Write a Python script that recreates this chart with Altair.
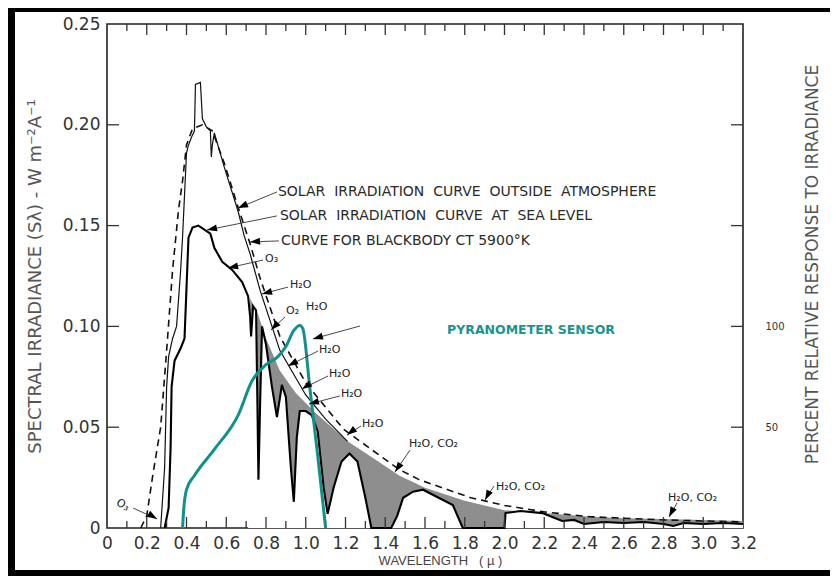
import altair as alt
import pandas as pd

# ---------------- data ----------------
# Blackbody curve 5900 K (dashed)
bb_w = [0.17, 0.20, 0.23, 0.27, 0.30, 0.33, 0.36, 0.38, 0.40, 0.43, 0.48, 0.53, 0.59, 0.66,
        0.72, 0.77, 0.87, 1.00, 1.19, 1.47, 1.57, 1.83, 2.00, 2.20, 2.43, 2.80, 3.20]
bb_v = [0.0, 0.006, 0.026, 0.05, 0.088, 0.128, 0.158, 0.172, 0.19, 0.198, 0.200, 0.197, 0.181, 0.159,
        0.141, 0.124, 0.095, 0.072, 0.049, 0.029, 0.024, 0.015, 0.0112, 0.0080, 0.0056, 0.0040, 0.0030]

# Solar irradiation outside atmosphere (thin solid)
out_w = [0.27, 0.29, 0.30, 0.31, 0.33, 0.35, 0.37, 0.38, 0.39, 0.40, 0.41, 0.43, 0.44, 0.445,
         0.47, 0.48, 0.50, 0.52, 0.525, 0.53, 0.54, 0.59, 0.66, 0.69, 0.72, 0.77, 0.87, 1.00, 1.10, 1.21]
out_v = [0.0, 0.03, 0.07, 0.085, 0.094, 0.10, 0.127, 0.144, 0.165, 0.186, 0.19, 0.195, 0.197, 0.22,
         0.221, 0.203, 0.199, 0.197, 0.184, 0.19, 0.196, 0.179, 0.157, 0.145, 0.136, 0.118, 0.088, 0.066, 0.054, 0.043]

# Upper edge of the shaded absorption region
env_w = [0.72, 0.76, 0.80, 0.87, 0.95, 1.05, 1.21, 1.35, 1.47, 1.60, 1.80, 2.00, 2.20, 2.40,
         2.60, 2.80, 3.00, 3.20]
env_v = [0.114, 0.106, 0.094, 0.078, 0.067, 0.057, 0.043, 0.034, 0.026, 0.020, 0.0135, 0.0088,
         0.0075, 0.0058, 0.0048, 0.0045, 0.0040, 0.0035]

# Solar irradiation at sea level (thick solid)
sea_w = [0.29, 0.31, 0.32, 0.325, 0.34, 0.37, 0.39, 0.40, 0.41, 0.43, 0.46, 0.49, 0.52, 0.54,
         0.58, 0.63, 0.68, 0.71, 0.72, 0.725, 0.735, 0.75, 0.757, 0.762, 0.77, 0.78, 0.80, 0.83,
         0.855, 0.88, 0.90, 0.925, 0.94, 0.955, 0.97, 1.00, 1.03, 1.06, 1.09, 1.11, 1.14, 1.18,
         1.22, 1.26, 1.30, 1.33, 1.43, 1.46, 1.49, 1.54, 1.59, 1.74, 1.79, 2.00, 2.005, 2.08,
         2.19, 2.29, 2.35, 2.40, 2.50, 2.60, 2.70, 2.80, 2.85, 2.90, 3.00, 3.10, 3.20]
sea_v = [0.0, 0.01, 0.04, 0.07, 0.083, 0.089, 0.094, 0.119, 0.144, 0.149, 0.150, 0.148, 0.146, 0.139,
         0.132, 0.128, 0.122, 0.115, 0.105, 0.095, 0.110, 0.108, 0.06, 0.024, 0.06, 0.10, 0.091, 0.07,
         0.055, 0.071, 0.065, 0.03, 0.013, 0.045, 0.058, 0.058, 0.056, 0.048, 0.02, 0.007, 0.02, 0.033,
         0.037, 0.033, 0.015, 0.0, 0.0, 0.006, 0.015, 0.018, 0.019, 0.0114, 0.0, 0.0, 0.0074, 0.0084,
         0.0074, 0.0035, 0.004, 0.002, 0.003, 0.0025, 0.003, 0.002, 0.001, 0.0025, 0.002, 0.0025, 0.002]

# Pyranometer sensor relative response (%)
pyr_w = [0.38, 0.385, 0.40, 0.44, 0.54, 0.66, 0.73, 0.80, 0.86, 0.90, 0.94, 0.97, 0.985, 1.02, 1.06, 1.10]
pyr_p = [0, 8, 19, 26, 39, 56, 73, 81, 85, 90, 98, 100.5, 99, 70, 36, 0]

# Axis tick values / labels
x_label_vals = [round(0.2 * i, 1) for i in range(17)]
x_minor_ticks = [0.1, 0.3, 0.5, 0.7, 0.9, 1.1, 1.3, 1.5, 1.7, 1.9, 2.1, 2.3, 2.5, 2.7, 2.9, 3.1]
x_major_ticks = [0.2, 0.4, 0.6, 0.8, 1.0, 1.2, 1.4, 1.6, 1.8, 2.0, 2.2, 2.4, 2.6, 2.8, 3.0]
y_label_vals = [0, 0.05, 0.10, 0.15, 0.20, 0.25]
y_tick_vals = [0.05, 0.10, 0.15, 0.20]
r_label_vals = [50, 100]

NB = "\u00a0"
# Big labels
big_text = [f"SOLAR {NB}IRRADIATION {NB}CURVE {NB}OUTSIDE {NB}ATMOSPHERE",
            f"SOLAR {NB}IRRADIATION {NB}CURVE {NB}AT {NB}SEA LEVEL",
            "CURVE FOR BLACKBODY CT 5900°K"]
big_w = [0.860, 0.870, 0.875]
big_v = [0.1667, 0.1548, 0.1424]

# Small chemical labels
chem_text = ["O₃", "H₂O", "O₂", "H₂O", "H₂O", "H₂O", "H₂O", "H₂O", "H₂O, CO₂", "H₂O, CO₂", "H₂O, CO₂"]
chem_w = [0.795, 0.921, 0.901, 1.001, 1.067, 1.117, 1.177, 1.283, 1.519, 1.957, 2.823]
chem_v = [0.1334, 0.1205, 0.1076, 0.1096, 0.0883, 0.0764, 0.0665, 0.0516, 0.0417, 0.0203, 0.0149]

o3_text = ["O₃"]
o3_w = [0.050]
o3_v = [0.0129]

pyr_text = ["PYRANOMETER SENSOR"]
pyr_tw = [1.711]
pyr_tv = [0.0982]

# Leader lines: start (w,v) -> arrow tip (w,v), arrow angle (deg)
ld_w0 = [0.855, 0.855, 0.865, 0.785, 0.911, 0.896, 1.273, 1.062, 1.112, 1.172, 1.278, 1.525, 1.947, 2.868, 0.131]
ld_v0 = [0.1667, 0.1548, 0.1424, 0.1329, 0.1195, 0.1047, 0.1002, 0.0878, 0.0754, 0.0655, 0.0506, 0.0387, 0.0208, 0.0124, 0.0099]
ld_w1 = [0.659, 0.503, 0.7195, 0.609, 0.780, 0.825, 1.036, 0.911, 0.981, 1.016, 1.208, 1.449, 1.902, 2.828, 0.252]
ld_v1 = [0.1587, 0.1478, 0.1419, 0.1290, 0.1161, 0.0982, 0.0938, 0.0804, 0.0690, 0.0615, 0.0461, 0.0278, 0.0139, 0.0055, 0.0045]
ld_ang = [156, 168, 176, 168, 165, 135, 164, 152, 148, 164, 142, 124, 118, 117, 31]

# ---------------- tables ----------------
bb_df = pd.DataFrame({"w": bb_w, "v": bb_v})
out_df = pd.DataFrame({"w": out_w, "v": out_v})
env_df = pd.DataFrame({"w": env_w, "v": env_v})
sea_df = pd.DataFrame({"w": sea_w, "v": sea_v})
pyr_df = pd.DataFrame({"w": pyr_w, "p": pyr_p})
big_df = pd.DataFrame({"w": big_w, "v": big_v, "t": big_text})
chem_df = pd.DataFrame({"w": chem_w, "v": chem_v, "t": chem_text})
o3_df = pd.DataFrame({"w": o3_w, "v": o3_v, "t": o3_text})
pyrt_df = pd.DataFrame({"w": pyr_tw, "v": pyr_tv, "t": pyr_text})
lead_rows = []
for i in range(len(ld_w0)):
    lead_rows.append({"id": i, "k": 0, "w": ld_w0[i], "v": ld_v0[i]})
    lead_rows.append({"id": i, "k": 1, "w": ld_w1[i], "v": ld_v1[i]})
lead_df = pd.DataFrame(lead_rows)
tip_df = pd.DataFrame({"w": ld_w1, "v": ld_v1, "a": ld_ang})
xmin_df = pd.DataFrame({"w": x_minor_ticks})
xmaj_df = pd.DataFrame({"w": x_major_ticks})
ytk_df = pd.DataFrame({"v": y_tick_vals})

# ---------------- scales / axes ----------------
W, H = 636, 504
PAD_R, PAD_B = 87, 48
xs = alt.Scale(domain=[0, 3.2], nice=False, zero=False)
ys = alt.Scale(domain=[0, 0.25], nice=False, zero=False)
rs = alt.Scale(domain=[0, 250], nice=False, zero=False)

x_axis = alt.Axis(values=x_label_vals, labelExpr="datum.value == 0 ? '0' : format(datum.value, '.1f')",
                  ticks=False, domain=False, grid=False, labelFont="DejaVu Sans", labelFontSize=17,
                  labelColor="#333", labelPadding=7, labelFlush=False, labelOverlap=False,
                  title=f"WAVELENGTH {NB}{NB}( µ )", titleFont="Liberation Sans", titleFontSize=13,
                  titleFontWeight="normal", titleColor="#444", titlePadding=3, titleX=333)
y_axis = alt.Axis(values=y_label_vals, labelExpr="datum.value == 0 ? '0' : format(datum.value, '.2f')",
                  ticks=False, domain=False, grid=False, labelFont="DejaVu Sans", labelFontSize=17,
                  labelColor="#333", labelPadding=7, labelFlush=False, labelOverlap=False,
                  title="SPECTRAL IRRADIANCE (Sλ) - W m⁻²A⁻¹", titleFont="DejaVu Sans",
                  titleFontSize=18, titleFontWeight="normal", titleColor="#555", titlePadding=18)
r_axis = alt.Axis(values=r_label_vals, orient="right", ticks=False, domain=False, grid=False,
                  labelFont="DejaVu Sans", labelFontSize=10, labelColor="#333", labelPadding=22,
                  title="PERCENT RELATIVE RESPONSE TO IRRADIANCE", titleFont="DejaVu Sans",
                  titleFontSize=17, titleFontWeight="normal", titleColor="#555", titlePadding=37,
                  titleAngle=270, titleY=240)


def X(f="w"):
    return alt.X(f"{f}:Q", scale=xs, axis=x_axis)


def Y(f="v"):
    return alt.Y(f"{f}:Q", scale=ys, axis=y_axis)


def Yn(f="v"):
    return alt.Y(f"{f}:Q", scale=ys, axis=None)


# ---------------- data layers ----------------
gray = alt.Chart(env_df).mark_area(color="#8e8e8e", opacity=1).encode(x=X(), y=Y())
white = alt.Chart(sea_df).transform_filter("datum.w >= 0.71").mark_area(color="white", opacity=1).encode(x=X(), y=Y())
outside = alt.Chart(out_df).mark_line(color="#111", strokeWidth=1.2).encode(x=X(), y=Y())
bbody = alt.Chart(bb_df).mark_line(color="#111", strokeWidth=1.6, strokeDash=[7, 5]).encode(x=X(), y=Y())
sea = alt.Chart(sea_df).mark_line(color="#000", strokeWidth=2.1).encode(x=X(), y=Y())
bticks_min = alt.Chart(xmin_df).mark_rule(color="#333", strokeWidth=1.3).encode(x=X(), y=alt.value(H), y2=alt.value(H - 7))
bticks_maj = alt.Chart(xmaj_df).mark_rule(color="#333", strokeWidth=1.3).encode(x=X(), y=alt.value(H), y2=alt.value(H - 11))
tticks_min = alt.Chart(xmin_df).mark_rule(color="#333", strokeWidth=1.3).encode(x=X(), y=alt.value(0), y2=alt.value(7))
tticks_maj = alt.Chart(xmaj_df).mark_rule(color="#333", strokeWidth=1.3).encode(x=X(), y=alt.value(0), y2=alt.value(11))

base = alt.layer(gray, white, outside, bbody, sea, bticks_min, bticks_maj, tticks_min, tticks_maj)

teal = alt.Chart(pyr_df).mark_line(color="#12908c", strokeWidth=3, interpolate="monotone").encode(
    x=X(), y=alt.Y("p:Q", scale=rs, axis=r_axis))

# ---------------- annotations ----------------
lticks = alt.Chart(ytk_df).mark_rule(color="#333", strokeWidth=1.3).encode(y=Yn(), x=alt.value(0), x2=alt.value(12))
rticks = alt.Chart(ytk_df).mark_rule(color="#333", strokeWidth=1.3).encode(y=Yn(), x=alt.value(W - 12), x2=alt.value(W))
leaders = alt.Chart(lead_df).mark_line(color="#333", strokeWidth=0.9).encode(
    x=X(), y=Yn(), detail="id:N", order="k:Q")
arrow_path = "M 0 0 L -2.6 -0.9 L -2.6 0.9 Z"
tips = alt.Chart(tip_df).mark_point(shape=arrow_path, filled=True, color="#000", opacity=1, size=60).encode(
    x=X(), y=Yn(), angle=alt.Angle("a:Q", scale=None))
big = alt.Chart(big_df).mark_text(align="left", baseline="middle", font="DejaVu Sans", fontSize=14,
                                  color="#2a2a2a").encode(x=X(), y=Yn(), text="t:N")
chem = alt.Chart(chem_df).mark_text(align="left", baseline="middle", font="DejaVu Sans", fontSize=11,
                                    color="#222").encode(x=X(), y=Yn(), text="t:N")
o3 = alt.Chart(o3_df).mark_text(align="left", baseline="middle", font="DejaVu Sans", fontSize=11,
                                color="#222", angle=30).encode(x=X(), y=Yn(), text="t:N")
pyrt = alt.Chart(pyrt_df).mark_text(align="left", baseline="middle", font="DejaVu Sans", fontSize=12.5,
                                    fontWeight="bold", color="#1a9490").encode(x=X(), y=Yn(), text="t:N")
# decorative black frame bars (page border of the original figure)
left_bar = alt.Chart(ytk_df).mark_rect(color="black").encode(
    x=alt.value(-99), x2=alt.value(-92), y=alt.value(-16), y2=alt.value(H + PAD_B))
top_bar = alt.Chart(ytk_df).mark_rect(color="black").encode(
    x=alt.value(-99), x2=alt.value(W + PAD_R), y=alt.value(-16), y2=alt.value(-12))
bot_bar = alt.Chart(ytk_df).mark_rect(color="black").encode(
    x=alt.value(-99), x2=alt.value(W + PAD_R), y=alt.value(H + PAD_B - 6), y2=alt.value(H + PAD_B))

annot = alt.layer(lticks, rticks, leaders, tips, big, chem, o3, pyrt, left_bar, top_bar, bot_bar)

chart = alt.layer(base, teal, annot).resolve_scale(y="independent").properties(
    width=W, height=H,
    autosize=alt.AutoSizeParams(type="none"),
    padding={"left": 99, "top": 16, "right": PAD_R, "bottom": PAD_B},
    background="white",
).configure_view(stroke="#222", strokeWidth=1.6)

chart.save("out.html", embed_options={"renderer": "svg", "actions": False})
